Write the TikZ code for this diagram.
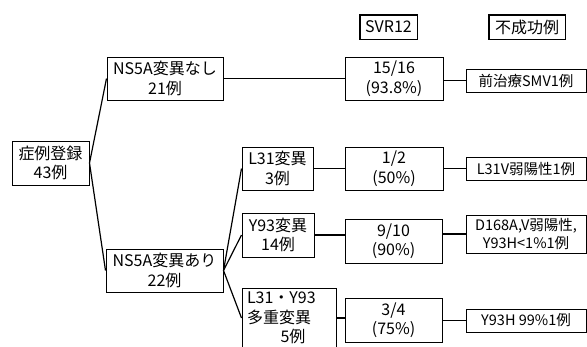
\documentclass[tikz,border=0pt]{standalone}
\usepackage{fontspec}
\setmainfont{Noto Sans CJK JP}
\begin{document}
\begin{tikzpicture}[x=1pt,y=-1pt,
  box/.style={draw=black, line width=1pt, inner sep=0pt, align=center, font=\fontsize{16}{19.5}\selectfont},
  sbox/.style={box, font=\fontsize{14.5}{18}\selectfont},
  conn/.style={line width=1.2pt}]
\useasboundingbox (0,0) rectangle (587,346);
% left tree
\node[box, minimum width=77pt, minimum height=44pt] (A) at (50.5,163) {症例登録\\43例};
\node[box, minimum width=116pt, minimum height=43pt] (B) at (165,78.5) {NS5A変異なし\\21例};
\node[box, minimum width=117pt, minimum height=43pt] (C) at (164.5,270.5) {NS5A変異あり\\22例};
\node[box, minimum width=71pt, minimum height=43pt] (D) at (277.5,168.5) {L31変異\\3例};
\node[box, minimum width=72pt, minimum height=44pt] (E) at (278,235) {Y93変異\\14例};
\node[box, minimum width=94pt, minimum height=60pt, text width=84pt, align=left] (F) at (289,318) {L31・Y93\\多重変異\\\hspace*{2.1em}5例};
% headers
\node[box, minimum width=57pt, minimum height=24pt] (G) at (388.5,27) {SVR12};
\node[box, minimum width=76pt, minimum height=24pt] (H) at (527,27) {不成功例};
\draw[line width=1pt] (G.north west) rectangle (G.south east);
\draw[line width=1pt] (H.north west) rectangle (H.south east);
% SVR boxes
\node[box, minimum width=98pt, minimum height=43pt] (I) at (394,78.5) {15/16\\(93.8\%)};
\node[box, minimum width=98pt, minimum height=43pt] (J) at (394,168.5) {1/2\\(50\%)};
\node[box, minimum width=97pt, minimum height=44pt] (K) at (393.5,241) {9/10\\(90\%)};
\node[box, minimum width=97pt, minimum height=44pt] (L) at (393.5,320) {3/4\\(75\%)};
% failure boxes
\node[sbox, minimum width=120pt, minimum height=23pt] (M) at (526,80.5) {前治療SMV1例};
\node[sbox, minimum width=120pt, minimum height=23pt] (N) at (526,168.5) {L31V弱陽性1例};
\node[sbox, minimum width=120pt, minimum height=38pt] (O) at (526,234) {D168A,V弱陽性,\\Y93H<1\%1例};
\node[sbox, minimum width=120pt, minimum height=23pt] (P) at (526,320.5) {Y93H 99\%1例};
% connectors
\draw[conn] (A.east) -- (B.west);
\draw[conn] (A.east) -- (C.west);
\draw[conn] (C.east) -- (D.west);
\draw[conn] (C.east) -- (E.west);
\draw[conn] (C.east) -- (F.west);
\draw[conn] (B.east) -- (B.east -| I.west);
\draw[conn] (D.east) -- (D.east -| J.west);
\draw[conn] (E.east) -- (E.east -| K.west);
\draw[conn] (F.east) -- (F.east -| L.west);
\draw[conn] (I.east |- M.west) -- (M.west);
\draw[conn] (J.east |- N.west) -- (N.west);
\draw[conn] (K.east |- O.west) -- (O.west);
\draw[conn] (L.east |- P.west) -- (P.west);
\end{tikzpicture}
\end{document}
